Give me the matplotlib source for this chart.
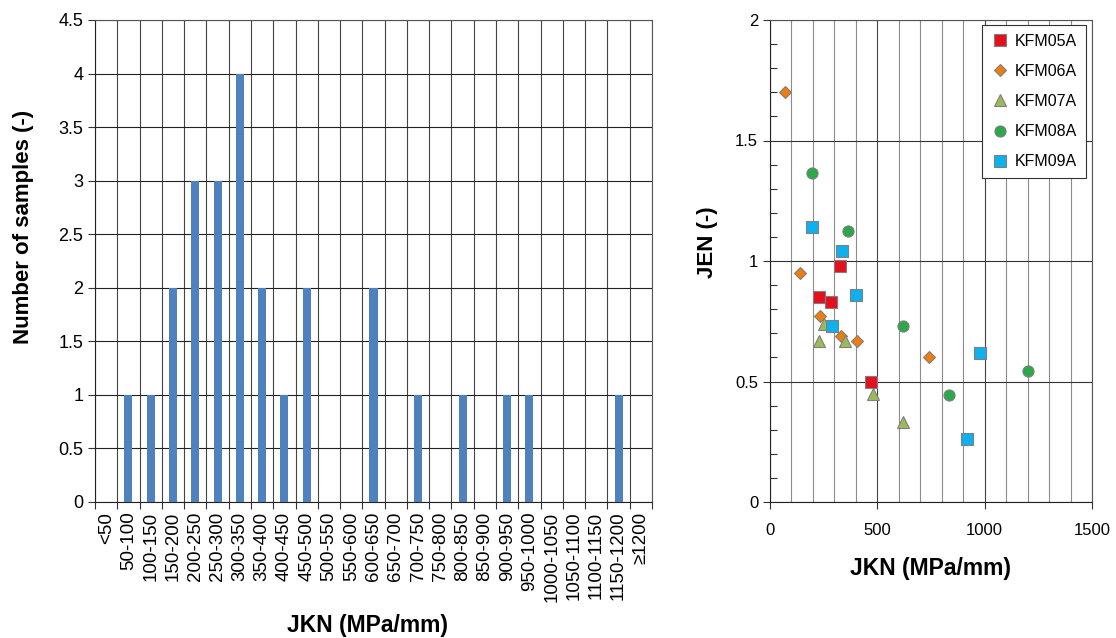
import numpy as np
from matplotlib import pyplot as plt
from matplotlib.ticker import MultipleLocator

plt.rcParams['font.family'] = ['Liberation Sans', 'DejaVu Sans']

# histogram of JKN classes
bins = ['<50', '50-100', '100-150', '150-200', '200-250', '250-300', '300-350',
        '350-400', '400-450', '450-500', '500-550', '550-600', '600-650',
        '650-700', '700-750', '750-800', '800-850', '850-900', '900-950',
        '950-1000', '1000-1050', '1050-1100', '1100-1150', '1150-1200', '≥1200']
counts = [0, 1, 1, 2, 3, 3, 4, 2, 1, 2, 0, 0, 2, 0, 1, 0, 1, 0, 1, 1, 0, 0, 0, 1, 0]

# JKN vs JEN per borehole
kfm05a_jkn = [227, 284, 326, 469]
kfm05a_jen = [0.85, 0.83, 0.98, 0.50]
kfm06a_jkn = [70, 140, 233, 329, 407, 742]
kfm06a_jen = [1.70, 0.95, 0.77, 0.69, 0.67, 0.60]
kfm07a_jkn = [253, 230, 351, 478, 621]
kfm07a_jen = [0.74, 0.67, 0.67, 0.45, 0.33]
kfm08a_jkn = [194, 365, 618, 835, 1200]
kfm08a_jen = [1.365, 1.125, 0.73, 0.445, 0.545]
kfm09a_jkn = [194, 335, 400, 287, 980, 917]
kfm09a_jen = [1.14, 1.04, 0.86, 0.73, 0.62, 0.26]

fig = plt.figure(figsize=(11.16, 6.38), dpi=100)

# ---- left: bar chart
ax = fig.add_axes([95/1116, 136/638, 557/1116, 482/638])
x = np.arange(len(bins))
ax.bar(x, counts, width=0.36, color='#4F81BD', zorder=3)
ax.set_xlim(-0.5, len(bins)-0.5)
ax.set_ylim(0, 4.5)
ax.set_yticks(np.arange(0, 4.51, 0.5))
ax.set_yticklabels(['0', '0.5', '1', '1.5', '2', '2.5', '3', '3.5', '4', '4.5'])
ax.set_xticks(x)
ax.set_xticklabels(bins, rotation=90)
ax.set_xticks(np.arange(-0.5, len(bins), 1), minor=True)
ax.tick_params(axis='x', which='major', length=0, labelsize=13.5, pad=7)
ax.tick_params(axis='x', which='minor', length=5, width=0.8, color='#333333')
ax.tick_params(axis='y', length=5, width=0.8, color='#333333', labelsize=13)
ax.grid(True, which='minor', axis='x', color='#444444', lw=0.8, zorder=0)
ax.grid(True, which='major', axis='y', color='#222222', lw=0.8, zorder=0)
for s in ax.spines.values():
    s.set_color('#555555')
    s.set_linewidth(0.8)
ax.spines['left'].set_color('#222222')
ax.spines['bottom'].set_color('#222222')
ax.set_ylabel('Number of samples (-)', fontsize=16, fontweight='bold')
ax.yaxis.set_label_coords(-0.109, 0.57)
ax.set_xlabel('JKN (MPa/mm)', fontsize=16.5, fontweight='bold')
ax.xaxis.set_label_coords(0.49, -0.233)

# ---- right: scatter
ax2 = fig.add_axes([770/1116, 136/638, 322/1116, 482/638])
mk = dict(linestyle='none', markeredgecolor='#7F7F7F', markeredgewidth=0.8, zorder=4)
ax2.plot(kfm05a_jkn, kfm05a_jen, marker='s', ms=8, color='#E3101E', label='KFM05A', **mk)
ax2.plot(kfm06a_jkn, kfm06a_jen, marker='D', ms=6.5, color='#EE7D10', label='KFM06A', **mk)
ax2.plot(kfm07a_jkn, kfm07a_jen, marker='^', ms=8.5, color='#9BBB59', label='KFM07A', **mk)
ax2.plot(kfm08a_jkn, kfm08a_jen, marker='o', ms=8, color='#2BA84A', label='KFM08A', **mk)
ax2.plot(kfm09a_jkn, kfm09a_jen, marker='s', ms=8, color='#0FB0EE', label='KFM09A', **mk)
ax2.set_xlim(0, 1500)
ax2.set_ylim(0, 2)
ax2.xaxis.set_major_locator(MultipleLocator(500))
ax2.xaxis.set_minor_locator(MultipleLocator(100))
ax2.yaxis.set_major_locator(MultipleLocator(0.5))
ax2.yaxis.set_minor_locator(MultipleLocator(0.1))
ax2.set_yticks([0, 0.5, 1, 1.5, 2])
ax2.set_yticklabels(['0', '0.5', '1', '1.5', '2'])
ax2.tick_params(axis='both', which='major', length=5, width=0.8, color='#333333', labelsize=12)
ax2.tick_params(axis='x', which='major', pad=10)
ax2.tick_params(axis='x', which='minor', length=0)
ax2.tick_params(axis='y', which='minor', direction='in', length=5, width=0.8, color='#333333')
ax2.grid(True, which='minor', axis='x', color='#8C8C8C', lw=0.8, zorder=0)
ax2.grid(True, which='major', axis='x', color='#444444', lw=0.8, zorder=0)
ax2.grid(True, which='major', axis='y', color='#333333', lw=0.8, zorder=0)
for s in ax2.spines.values():
    s.set_color('#555555')
    s.set_linewidth(0.8)
ax2.spines['left'].set_color('#222222')
ax2.spines['bottom'].set_color('#222222')
ax2.set_ylabel('JEN (-)', fontsize=16, fontweight='bold')
ax2.yaxis.set_label_coords(-0.163, 0.54)
ax2.set_xlabel('JKN (MPa/mm)', fontsize=16.5, fontweight='bold')
ax2.xaxis.set_label_coords(0.5, -0.115)
leg = ax2.legend(loc='upper right', bbox_to_anchor=(0.98, 0.99), fontsize=11.5,
                 frameon=True, fancybox=False, borderpad=0.55, labelspacing=0.95,
                 handletextpad=0.3, handlelength=1.2, borderaxespad=0)
leg.get_frame().set_edgecolor('#333333')
leg.get_frame().set_linewidth(0.8)
leg.get_frame().set_alpha(1)

fig.savefig('out.png', dpi=100)
